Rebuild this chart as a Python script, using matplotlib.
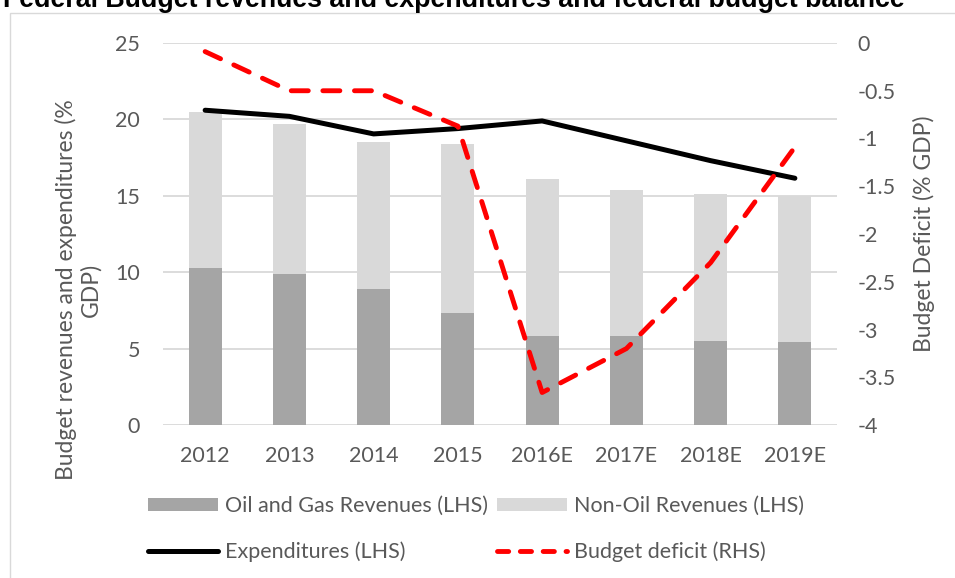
import matplotlib
matplotlib.use("Agg")
import matplotlib.pyplot as plt
from matplotlib.patches import Rectangle, Patch
from matplotlib.lines import Line2D
import numpy as np

years = ["2012", "2013", "2014", "2015", "2016E", "2017E", "2018E", "2019E"]
oil_gas = [10.3, 9.9, 8.9, 7.3, 5.8, 5.8, 5.5, 5.4]
non_oil = [10.2, 9.8, 9.6, 11.1, 10.3, 9.6, 9.6, 9.6]
expenditures = [20.6, 20.2, 19.05, 19.4, 19.9, 18.6, 17.3, 16.15]
deficit = [-0.09, -0.5, -0.5, -0.87, -3.66, -3.2, -2.3, -1.09]

FONT = "Lato"
GRAY = "#595959"
plt.rcParams["font.family"] = [FONT, "DejaVu Sans"]
FS = 15.5

fig = plt.figure(figsize=(9.55, 5.78), dpi=100)
W, H = 955, 578
ax = fig.add_axes([163 / W, 1 - 425 / H, (837 - 163) / W, (425 - 43) / H])

x = np.arange(len(years))
bw = 0.39
ax.bar(x, oil_gas, bw, color="#A5A5A5", zorder=2)
ax.bar(x, non_oil, bw, bottom=oil_gas, color="#D9D9D9", zorder=2)
ax.plot(x, expenditures, color="black", lw=3.6, solid_capstyle="round",
        solid_joinstyle="round", zorder=3)

ax.set_xlim(-0.5, len(years) - 0.5)
ax.set_ylim(0, 25)
ax.set_yticks(range(0, 26, 5))
ax.set_xticks(x)
ax.set_xticklabels(years)
ax.grid(axis="y", color="#D9D9D9", lw=1.3, zorder=0)
ax.set_axisbelow(True)
for s in ax.spines.values():
    s.set_visible(False)
ax.tick_params(axis="both", length=0, labelsize=FS, labelcolor=GRAY)
ax.tick_params(axis="y", pad=16.5)
ax.tick_params(axis="x", pad=15)
ax.set_ylabel("Budget revenues and expenditures (%\nGDP)", fontsize=16.5,
              color=GRAY, linespacing=1.15)
ax.yaxis.set_label_coords((101 - 163) / 674, (425 - 290) / 382)

ax2 = ax.twinx()
ax2.plot(x, deficit, color="#FF0000", lw=3.5, dashes=(3.5, 3.0),
         dash_capstyle="round", dash_joinstyle="round", zorder=4)
ax2.set_ylim(-4, 0)
ax2.set_yticks([0, -0.5, -1, -1.5, -2, -2.5, -3, -3.5, -4])
ax2.set_yticklabels(["0", "-0.5", "-1", "-1.5", "-2", "-2.5", "-3", "-3.5", "-4"])
for s in ax2.spines.values():
    s.set_visible(False)
ax2.tick_params(axis="y", length=0, labelsize=FS, labelcolor=GRAY, pad=15)
ax2.set_ylabel("Budget Deficit (% GDP)", fontsize=16.5, color=GRAY, labelpad=12)

handles = [
    Patch(facecolor="#A5A5A5", label="Oil and Gas Revenues (LHS)"),
    Line2D([], [], color="black", lw=3.6, solid_capstyle="round",
           label="Expenditures (LHS)"),
    Patch(facecolor="#D9D9D9", label="Non-Oil Revenues (LHS)"),
    Line2D([], [], color="#FF0000", lw=3.5, dashes=(2.3, 2.4),
           dash_capstyle="round", label="Budget deficit (RHS)"),
]
leg = fig.legend(handles=handles, ncol=2, loc="center",
                 bbox_to_anchor=(476 / W, 1 - 529 / H), frameon=False,
                 fontsize=FS, labelcolor=GRAY, handlelength=3.25,
                 handleheight=0.55, handletextpad=0.33, columnspacing=0.42,
                 labelspacing=1.17)

# chart border
fig.patches.append(Rectangle((10 / W, -0.02), 1.0, 1 - 13 / H + 0.02,
                             transform=fig.transFigure, fill=False,
                             edgecolor="#D9D9D9", lw=1.0))

fig.text(3 / W, 1 - 7 / H, "Federal Budget revenues and expenditures and federal budget balance",
         fontsize=19.3, fontweight="bold", family="Liberation Sans",
         va="baseline", ha="left")

fig.savefig("out.png", dpi=100)
